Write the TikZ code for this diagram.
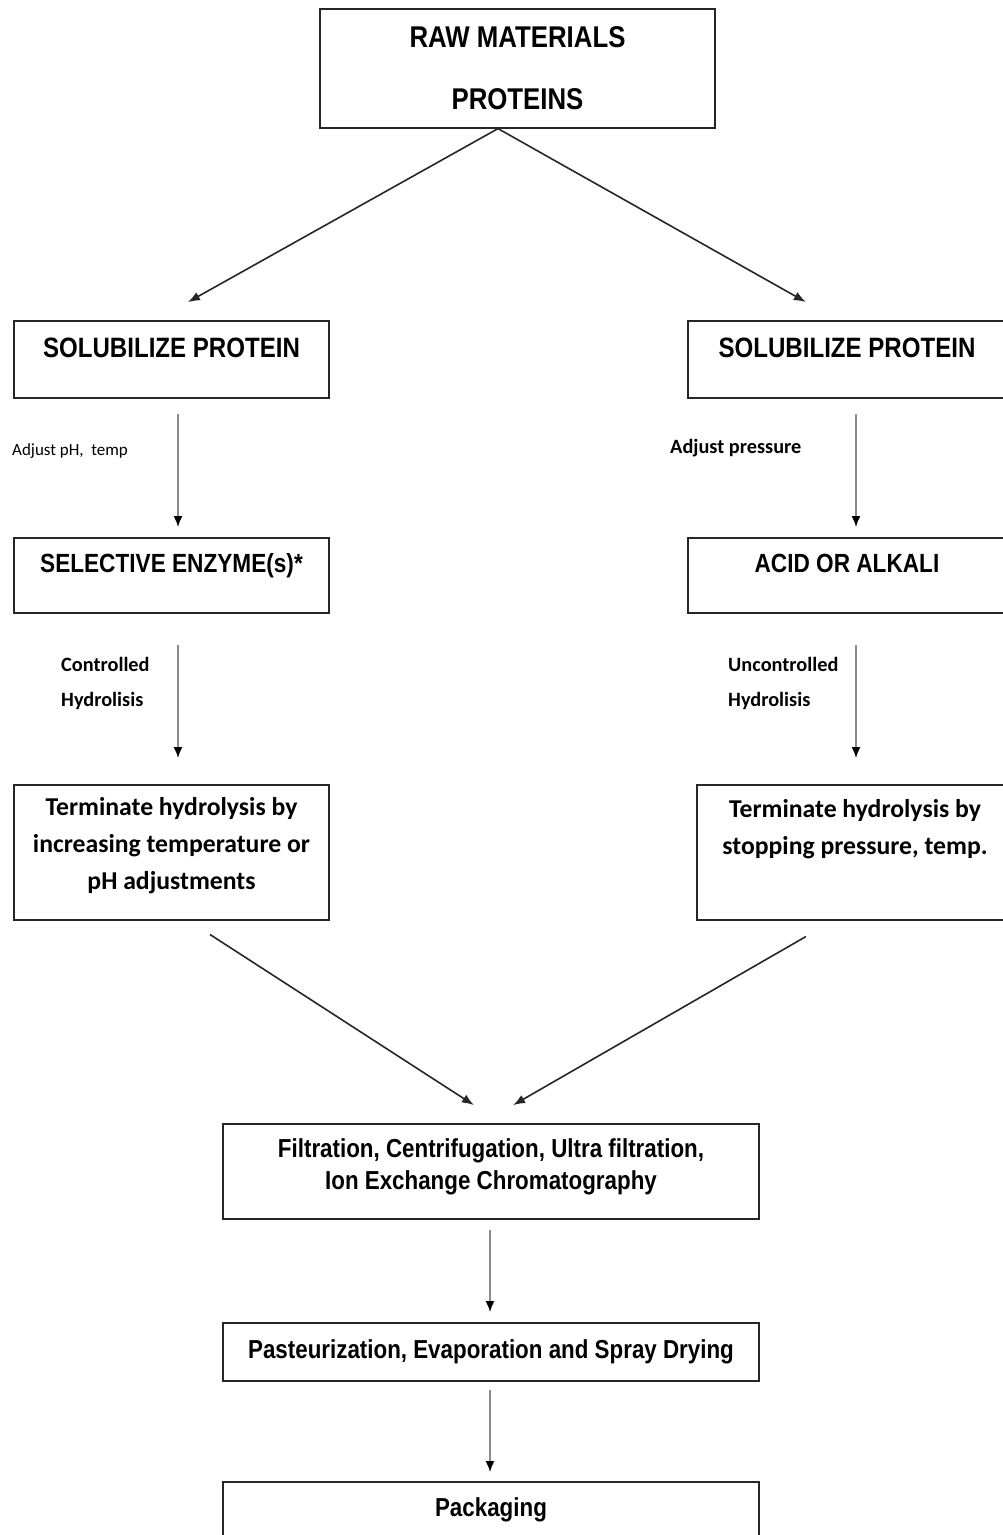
\documentclass[tikz,border=0pt]{standalone}
\usepackage{fontspec}
\setmainfont{Liberation Sans}
\newfontfamily\narrowfont[FakeStretch=0.86]{Liberation Sans}
\newfontfamily\calfont{Carlito}
\usetikzlibrary{arrows.meta}

\begin{document}
\begin{tikzpicture}[
    x=1pt, y=-1pt,
    block/.style={rectangle, draw=black!85, line width=1.6pt, align=center, anchor=north, inner xsep=4pt, inner ysep=0pt, minimum width=315pt},
    capsfont/.style={font=\narrowfont\bfseries\fontsize{28}{34}\selectfont},
    smallcaps/.style={font=\narrowfont\bfseries\fontsize{26.3}{34}\selectfont},
    wordfont/.style={font=\calfont\bfseries\fontsize{25.7}{37}\selectfont},
    lowfont/.style={font=\narrowfont\bfseries\fontsize{26}{32}\selectfont},
    note/.style={anchor=west, inner sep=0pt, align=left, font=\calfont\bfseries\fontsize{20.3}{35}\selectfont},
    flow/.style={-{Latex[length=11pt, width=9pt, color=black, fill=black]}, draw=black!45, line width=1.6pt},
    link/.style={-{Latex[length=12pt, width=9pt]}, draw=black!85, line width=1.6pt}
]
\useasboundingbox (0,0) rectangle (1002,1535);

% boxes
\node[block, minimum width=395pt, minimum height=119pt, font=\narrowfont\bfseries\fontsize{30}{62}\selectfont] (raw) at (517.5,8) {RAW MATERIALS\\PROTEINS};
\node[block, capsfont, text height=37pt, text depth=40pt] (sol1) at (171.5,320) {SOLUBILIZE PROTEIN};
\node[block, capsfont, text height=37pt, text depth=40pt, minimum width=318pt] (sol2) at (847,320) {SOLUBILIZE PROTEIN};
\node[block, smallcaps, text height=35pt, text depth=40pt] (enz) at (171.5,537) {SELECTIVE ENZYME(s)*};
\node[block, smallcaps, text height=35pt, text depth=40pt, minimum width=318pt] (acid) at (847,537) {ACID OR ALKALI};
\node[block, wordfont, minimum height=135pt] (term1) at (171.5,784) {Terminate hydrolysis by\\increasing temperature or\\pH adjustments\\[-20pt]\mbox{}};
\node[block, wordfont, minimum height=135pt, minimum width=316pt] (term2) at (855,784) {Terminate hydrolysis by\\stopping pressure, temp.\\[13pt]\mbox{}};
\node[block, lowfont, minimum width=536pt, minimum height=95pt] (filt) at (491,1123) {Filtration, Centrifugation, Ultra filtration,\\Ion Exchange Chromatography\\[-18pt]\mbox{}};
\node[block, lowfont, minimum width=536pt, text height=36pt, text depth=22pt] (past) at (491,1322) {Pasteurization, Evaporation and Spray Drying};
\node[block, lowfont, minimum width=536pt, text height=35pt, text depth=40pt] (pack) at (491,1481) {Packaging};

% labels by the arrows
\node[note, font=\calfont\fontsize{17}{20}\selectfont] (ph) at (12,451) {Adjust pH, \ temp};
\node[note] (pres) at (670,448) {Adjust pressure};
\node[note] (ctrl) at (61,683.5) {Controlled\\Hydrolisis};
\node[note] (unctrl) at (728,683.5) {Uncontrolled\\Hydrolisis};

% arrows
\draw[link, shorten >=36.6pt] ([xshift=-19.5pt]raw.south) -- ([xshift=-15.5pt]sol1.north);
\draw[link, shorten >=36.6pt] ([xshift=-19.5pt]raw.south) -- ([xshift=-9.3pt]sol2.north);
\draw[flow, shorten <=15pt, shorten >=10pt] ([xshift=6.5pt]sol1.south) -- ([xshift=6.5pt]enz.north);
\draw[flow, shorten <=31pt, shorten >=26pt] ([xshift=6.5pt]enz.south) -- ([xshift=6.5pt]term1.north);
\draw[flow, shorten <=15pt, shorten >=10pt] ([xshift=9pt]sol2.south) -- ([xshift=9pt]acid.north);
\draw[flow, shorten <=31pt, shorten >=26pt] ([xshift=9pt]acid.south) -- ([xshift=1pt]term2.north);
\draw[link, shorten <=25.6pt, shorten >=33pt] ([xshift=17pt]term1.south) -- ([xshift=10.6pt]filt.north);
\draw[link, shorten <=31.9pt, shorten >=35.9pt] ([xshift=-21.4pt]term2.south) -- ([xshift=-9pt]filt.north);
\draw[flow, shorten <=10pt, shorten >=10pt] ([xshift=-1pt]filt.south) -- ([xshift=-1pt]past.north);
\draw[flow, shorten <=8pt, shorten >=9pt] ([xshift=-1pt]past.south) -- ([xshift=-1pt]pack.north);
\end{tikzpicture}
\end{document}
